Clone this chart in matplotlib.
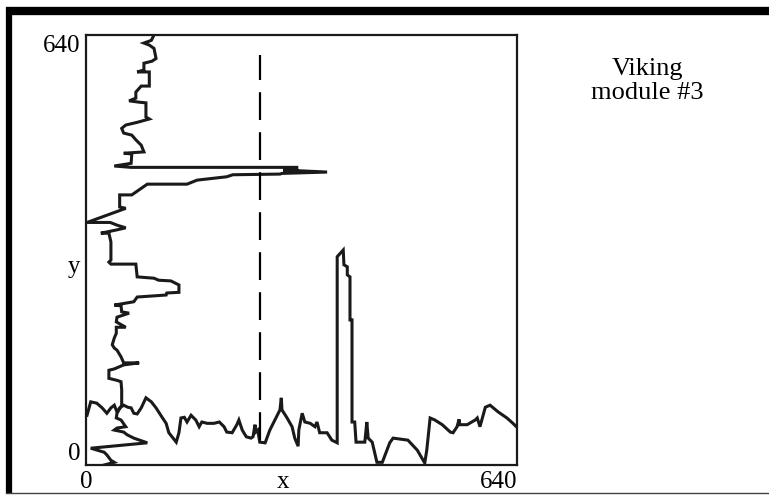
import matplotlib.pyplot as plt
from matplotlib.lines import Line2D

plt.rcParams['font.family'] = ['Liberation Serif', 'DejaVu Serif']

# horizontal profile along x (intensity y)
row_x = [1.5, 7, 16, 24, 31, 37, 42, 46, 50, 56, 62, 67, 71, 76, 82, 89, 97, 104, 113, 119,
         123, 134, 138, 141, 146, 150, 156, 163, 168, 172, 180, 190, 198, 205, 209, 217, 224, 227,
         232, 238, 245, 248, 251, 252, 255, 258, 266, 273, 288, 290, 291, 298, 306, 310, 315, 316,
         321, 325, 333, 340, 343, 347, 358, 365, 373, 373, 382, 383, 388, 388, 392, 392, 395, 395,
         399, 401, 414, 417, 419, 425, 432, 440, 451, 456, 478, 492, 503, 506, 511, 518, 529, 541,
         545, 551, 554, 555, 566, 578, 581, 585, 593, 600, 612, 625, 634, 639]
row_y = [74, 94, 92, 85, 77, 85, 89, 79, 85, 89, 86, 85, 77, 76, 85, 100, 94, 85, 71, 62,
         48, 34, 48, 70, 71, 64, 74, 67, 57, 64, 62, 62, 64, 57, 49, 48, 60, 67,
         52, 42, 40, 42, 60, 49, 52, 34, 33, 52, 82, 100, 82, 71, 57, 40, 28, 52,
         77, 64, 62, 57, 64, 48, 48, 37, 33, 310, 320, 298, 295, 283, 280, 216, 216, 64,
         64, 34, 34, 64, 40, 34, 4, 4, 33, 40, 37, 22, 3, 22, 70, 67, 60, 49,
         48, 57, 68, 60, 60, 67, 70, 57, 86, 89, 79, 70, 62, 57]

# vertical profile along y (intensity x)
col_x = [101, 97, 86, 94, 101, 104, 98, 86, 86, 76, 94, 94, 82, 74, 74, 64, 79, 89, 89, 94,
         76, 59, 53, 56, 68, 74, 82, 86, 56, 68, 67, 42, 67, 313, 313, 293, 358, 291, 288, 218,
         209, 165, 150, 91, 68, 50, 50, 59, 1.5, 36, 46, 59, 46, 22, 34, 37, 37, 34, 37, 74,
         76, 101, 108, 126, 138, 138, 120, 119, 76, 71, 42, 52, 53, 64, 46, 45, 59, 45, 45, 42,
         39, 42, 46, 52, 56, 79, 56, 42, 34, 34, 46, 52, 53, 53, 46, 45, 52, 59, 46, 42,
         56, 61, 71, 91, 7, 27, 31, 37, 42, 27]
col_y = [640, 632, 628, 625, 620, 605, 601, 598, 588, 585, 585, 564, 564, 555, 546, 542, 540, 539, 518, 515,
         510, 506, 501, 494, 491, 484, 476, 466, 464, 463, 449, 445, 443, 443, 440, 439, 436, 434, 433, 432,
         429, 424, 418, 418, 402, 402, 384, 382, 361, 361, 357, 353, 350, 345, 345, 332, 305, 302, 299, 299,
         280, 278, 275, 274, 268, 257, 256, 253, 250, 243, 238, 237, 228, 226, 220, 213, 205, 205, 196, 189,
         179, 174, 171, 161, 152, 152, 149, 143, 141, 129, 126, 124, 112, 89, 77, 70, 67, 57, 55, 52,
         49, 45, 40, 33, 25, 19, 15, 7, 4, 0]

cut_x = 258
cut_y = [37, 610]

fig = plt.figure(figsize=(7.69, 4.97), dpi=100)
ax = fig.add_axes([86 / 769, 32 / 497, 431 / 769, 430 / 497])

ax.plot(row_x, row_y, color='#1a1a1a', lw=2.2, solid_joinstyle='miter')
ax.plot(col_x, col_y, color='#1a1a1a', lw=2.2, solid_joinstyle='miter')
ax.plot([cut_x, cut_x], cut_y, color='black', lw=1.6, linestyle=(0, (12.5, 5.5)))

ax.set_xlim(0, 640)
ax.set_ylim(0, 640)
for s in ax.spines.values():
    s.set_linewidth(1.6)
    s.set_color('#1a1a1a')

ax.set_xticks([0, 292, 640], ['0', 'x', '640'], fontsize=18)
ax.set_yticks([0, 298, 640], ['0', 'y', '640'], fontsize=18)
ax.tick_params(length=0, pad=4)
xl = ax.get_xticklabels()
xl[2].set_ha('right')
yl = ax.get_yticklabels()
yl[0].set_va('bottom')
yl[2].set_va('top')

fig.text(647 / 769, 1 - 81 / 497, 'Viking\nmodule #3', ha='center', va='center',
         fontsize=19, linespacing=1.15)

# frame around the whole figure
fig.add_artist(Line2D([6 / 769, 1], [1 - 11 / 497, 1 - 11 / 497], color='black', lw=6,
                      transform=fig.transFigure, solid_capstyle='butt'))
fig.add_artist(Line2D([9 / 769, 9 / 769], [1 - 7 / 497, 4 / 497], color='black', lw=4.5,
                      transform=fig.transFigure, solid_capstyle='butt'))
fig.add_artist(Line2D([6 / 769, 1], [4 / 497, 4 / 497], color='#444444', lw=1,
                      transform=fig.transFigure))

fig.savefig('out.png', dpi=100)
